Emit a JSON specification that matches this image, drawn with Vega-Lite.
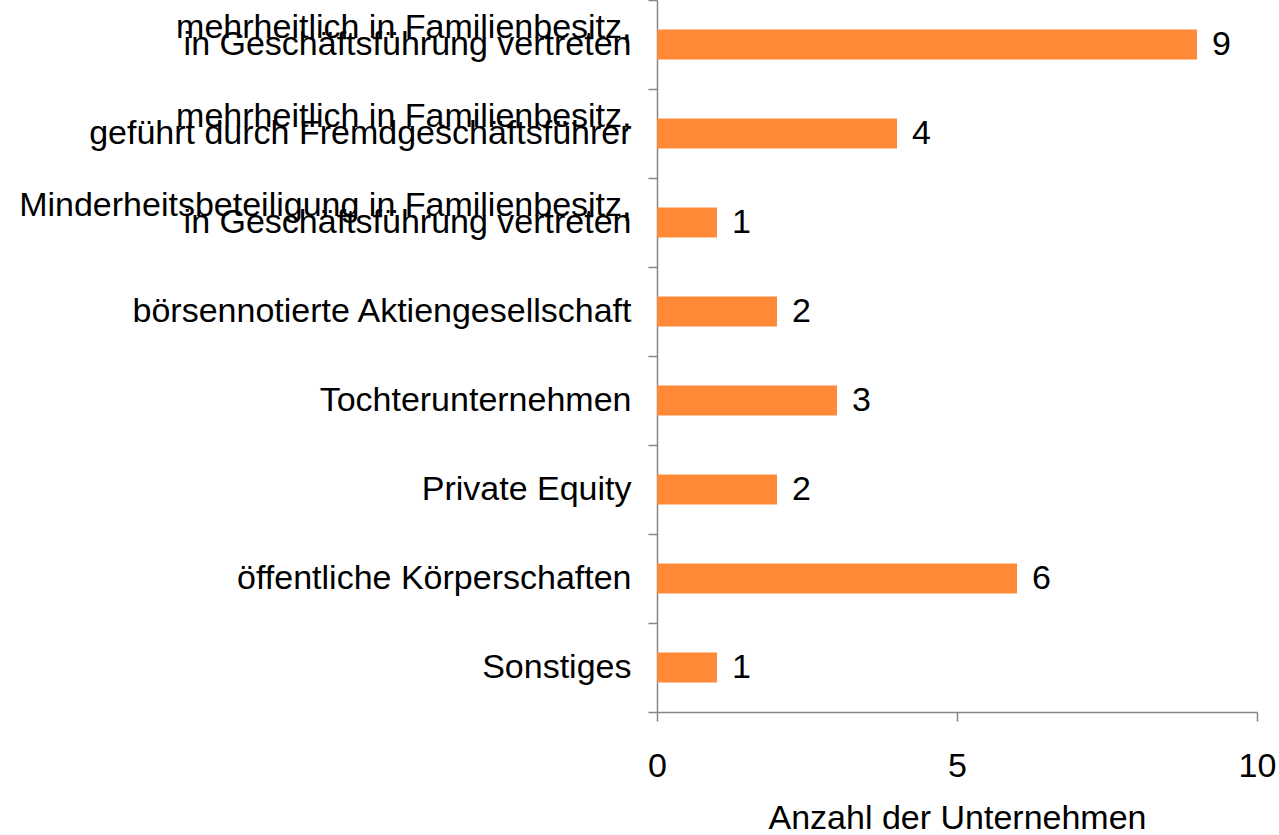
{
  "$schema": "https://vega.github.io/schema/vega-lite/v6.json",
  "autosize": {"type": "none"},
  "width": 600,
  "height": 712,
  "padding": {"left": 657, "top": 0, "right": 22, "bottom": 123},
  "background": "white",
  "config": {
    "view": {"stroke": null},
    "font": "Liberation Sans",
    "axis": {"grid": false}
  },
  "data": {
    "values": [
      {"kategorie": "mehrheitlich in Familienbesitz,\nin Geschäftsführung vertreten", "anzahl": 9},
      {"kategorie": "mehrheitlich in Familienbesitz,\ngeführt durch Fremdgeschäftsführer", "anzahl": 4},
      {"kategorie": "Minderheitsbeteiligung in Familienbesitz,\nin Geschäftsführung vertreten", "anzahl": 1},
      {"kategorie": "börsennotierte Aktiengesellschaft", "anzahl": 2},
      {"kategorie": "Tochterunternehmen", "anzahl": 3},
      {"kategorie": "Private Equity", "anzahl": 2},
      {"kategorie": "öffentliche Körperschaften", "anzahl": 6},
      {"kategorie": "Sonstiges", "anzahl": 1}
    ]
  },
  "encoding": {
    "y": {
      "field": "kategorie",
      "type": "nominal",
      "sort": null,
      "scale": {"paddingInner": 0, "paddingOuter": 0},
      "axis": {
        "title": null,
        "labelExpr": "indexof(datum.label, '\\n') >= 0 ? [split(datum.label, '\\n')[0], '\u00a0', split(datum.label, '\\n')[1]] : ['', datum.label]",
        "labelFontSize": 34,
        "labelLineHeight": 17.5,
        "labelOffset": -17.5,
        "labelColor": "#000000",
        "labelPadding": 17,
        "labelLimit": 0,
        "tickSize": 9,
        "tickBand": "extent",
        "tickColor": "#868686",
        "tickWidth": 1.5,
        "domainColor": "#868686",
        "domainWidth": 1.5
      }
    },
    "x": {
      "field": "anzahl",
      "type": "quantitative",
      "scale": {"domain": [0, 10], "nice": false},
      "axis": {
        "title": "Anzahl der Unternehmen",
        "values": [0, 5, 10],
        "labelFontSize": 34,
        "labelColor": "#000000",
        "labelPadding": 28,
        "labelFlush": false,
        "titleFontSize": 34,
        "titleFontWeight": "normal",
        "titleColor": "#000000",
        "titlePadding": 18,
        "tickSize": 9,
        "tickColor": "#868686",
        "tickWidth": 1.5,
        "domainColor": "#868686",
        "domainWidth": 1.5
      }
    }
  },
  "layer": [
    {"mark": {"type": "bar", "color": "#FF8936", "size": 30}},
    {
      "mark": {"type": "text", "align": "left", "baseline": "middle", "dx": 15, "fontSize": 34, "color": "#000000"},
      "encoding": {"text": {"field": "anzahl", "type": "quantitative"}}
    }
  ]
}
